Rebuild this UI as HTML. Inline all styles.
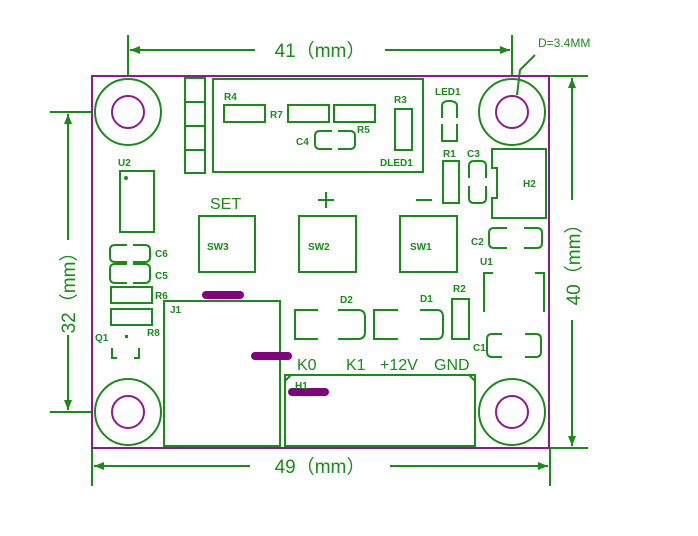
<!DOCTYPE html>
<html><head><style>body{margin:0;background:#fff}svg{display:block}</style></head><body>
<svg width="698" height="536" viewBox="0 0 698 536" xmlns="http://www.w3.org/2000/svg" font-family="Liberation Sans, sans-serif">
<defs>
<marker id="a" markerWidth="10" markerHeight="8" refX="10" refY="4" orient="auto-start-reverse" markerUnits="userSpaceOnUse"><path d="M0,0 L10,4 L0,8 Z" fill="#1a8a1a"/></marker>
</defs>
<g stroke="#1a8a1a" stroke-width="2" fill="none">
<!-- dimensions -->
<line x1="128" y1="35" x2="128" y2="76"/><line x1="512" y1="35" x2="512" y2="76"/>
<line x1="130" y1="50" x2="255" y2="50" marker-start="url(#a)"/><line x1="385" y1="50" x2="510" y2="50" marker-end="url(#a)"/>
<line x1="50" y1="112" x2="92" y2="112"/><line x1="50" y1="412" x2="92" y2="412"/>
<line x1="68" y1="114" x2="68" y2="240" marker-start="url(#a)"/><line x1="68" y1="335" x2="68" y2="410" marker-end="url(#a)"/>
<line x1="548" y1="76" x2="588" y2="76"/><line x1="548" y1="448" x2="588" y2="448"/>
<line x1="572" y1="78" x2="572" y2="200" marker-start="url(#a)"/><line x1="572" y1="320" x2="572" y2="446" marker-end="url(#a)"/>
<line x1="92" y1="448" x2="92" y2="486"/><line x1="550" y1="448" x2="550" y2="486"/>
<line x1="94" y1="466" x2="250" y2="466" marker-start="url(#a)"/><line x1="390" y1="466" x2="548" y2="466" marker-end="url(#a)"/>
<path d="M517,95 L520,70 L535,55"/>
</g>
<rect x="92" y="76" width="457" height="372" fill="none" stroke="#8b1a8b" stroke-width="2"/>
<g stroke="#1a8a1a" stroke-width="2" fill="none">
<circle cx="128" cy="112" r="33"/><circle cx="512" cy="112" r="33"/><circle cx="128" cy="412" r="33"/><circle cx="512" cy="412" r="33"/>
<rect x="185" y="78" width="20" height="95"/><line x1="185" y1="102" x2="205" y2="102"/><line x1="185" y1="126" x2="205" y2="126"/><line x1="185" y1="150" x2="205" y2="150"/>
<rect x="213" y="79" width="210" height="93"/>
<rect x="224" y="105" width="41" height="17"/><rect x="288" y="105" width="41" height="17"/><rect x="334" y="105" width="41" height="17"/>
<path d="M332,131 H320 Q315,131 315,136 V144 Q315,149 320,149 H332 M338,131 H350 Q355,131 355,136 V144 Q355,149 350,149 H338"/>
<rect x="395" y="109" width="17" height="41"/>
<path d="M442,118 V106 Q442,101 449,101 Q457,101 457,106 V118 M442,124 V141 H457 V124"/>
<rect x="443" y="161" width="16" height="42"/>
<path d="M469,178 V166 Q469,161 474,161 H481 Q486,161 486,166 V178 M469,186 V198 Q469,203 474,203 H481 Q486,203 486,198 V186"/>
<path d="M492,149 H546 V218 H492 V198 H497 V168 H492 Z"/>
<line x1="416" y1="200" x2="432" y2="200"/>
<rect x="120" y="171" width="34" height="61"/>
<rect x="199" y="216" width="56" height="56"/><rect x="299" y="216" width="57" height="56"/><rect x="400" y="216" width="57" height="56"/>
<line x1="326" y1="192" x2="326" y2="208"/><line x1="318" y1="200" x2="334" y2="200"/>
<path d="M507,228 H494 Q489,228 489,233 V243 Q489,248 494,248 H507 M524,228 H537 Q542,228 542,233 V243 Q542,248 537,248 H524"/>
<path d="M127,245 H115 Q110,245 110,250 V257 Q110,262 115,262 H127 M133,245 H145 Q150,245 150,250 V257 Q150,262 145,262 H133"/>
<path d="M127,264 H115 Q110,264 110,269 V278 Q110,283 115,283 H127 M133,264 H145 Q150,264 150,269 V278 Q150,283 145,283 H133"/>
<rect x="111" y="287" width="41" height="16"/><rect x="111" y="309" width="41" height="16"/>
<path d="M112,348 V358 H117 M139,348 V358 H134"/>
<rect x="164" y="301" width="116" height="145"/>
<path d="M318,310 H295 V339 H318 M338,310 H358 Q365,310 365,317 V332 Q365,339 358,339 H338"/>
<path d="M398,310 H374 V339 H398 M420,310 H437 Q443,310 443,317 V332 Q443,339 437,339 H420"/>
<rect x="452" y="299" width="17" height="40"/>
<path d="M493,273 H484 V312 M535,273 H544 V312"/>
<path d="M502,334 H492 Q487,334 487,339 V352 Q487,357 492,357 H502 M525,334 H536 Q541,334 541,339 V352 Q541,357 536,357 H525"/>
<rect x="285" y="375" width="190" height="71"/>
<path d="M285,381 L291,375 M469,375 L475,381"/>
</g>
<circle cx="126" cy="178" r="2" fill="#1a8a1a"/><rect x="125" y="335" width="3" height="3" fill="#1a8a1a"/>
<g stroke="#8b1a8b" fill="none" stroke-width="2">
<circle cx="128" cy="112" r="16"/><circle cx="512" cy="112" r="16"/><circle cx="128" cy="412" r="16"/><circle cx="512" cy="412" r="16"/>
</g>
<g stroke="#800080" stroke-width="8" stroke-linecap="round">
<line x1="206" y1="295" x2="240" y2="295"/><line x1="255" y1="356" x2="288" y2="356"/><line x1="292" y1="392" x2="325" y2="392"/>
</g>
<g fill="#1a8a1a" font-size="10" font-weight="bold">
<text x="224" y="100">R4</text><text x="270" y="118">R7</text><text x="357" y="133">R5</text><text x="296" y="145">C4</text>
<text x="394" y="103">R3</text><text x="380" y="166">DLED1</text><text x="435" y="95">LED1</text>
<text x="443" y="157">R1</text><text x="467" y="157">C3</text><text x="523" y="187">H2</text>
<text x="118" y="166">U2</text><text x="207" y="250">SW3</text><text x="308" y="250">SW2</text><text x="410" y="250">SW1</text>
<text x="471" y="245">C2</text><text x="480" y="265">U1</text>
<text x="155" y="257">C6</text><text x="155" y="279">C5</text><text x="155" y="299">R6</text><text x="147" y="336">R8</text><text x="95" y="341">Q1</text>
<text x="170" y="313">J1</text><text x="340" y="303">D2</text><text x="420" y="302">D1</text><text x="453" y="292">R2</text><text x="473" y="351">C1</text>
<text x="295" y="389">H1</text>
</g>
<g fill="#1a8a1a" font-size="16">
<text x="210" y="209">SET</text>
<text x="297" y="370">K0</text><text x="346" y="370">K1</text><text x="380" y="370">+12V</text><text x="434" y="370">GND</text>
</g>
<g fill="#1a8a1a" font-size="19">
<text x="320" y="57" text-anchor="middle">41（mm）</text>
<text x="320" y="473" text-anchor="middle">49（mm）</text>
<text transform="translate(75,288) rotate(-90)" text-anchor="middle">32（mm）</text>
<text transform="translate(580,260) rotate(-90)" text-anchor="middle">40（mm）</text>
</g>
<text x="538" y="47" fill="#1a8a1a" font-size="12">D=3.4MM</text>
</svg>
</body></html>
